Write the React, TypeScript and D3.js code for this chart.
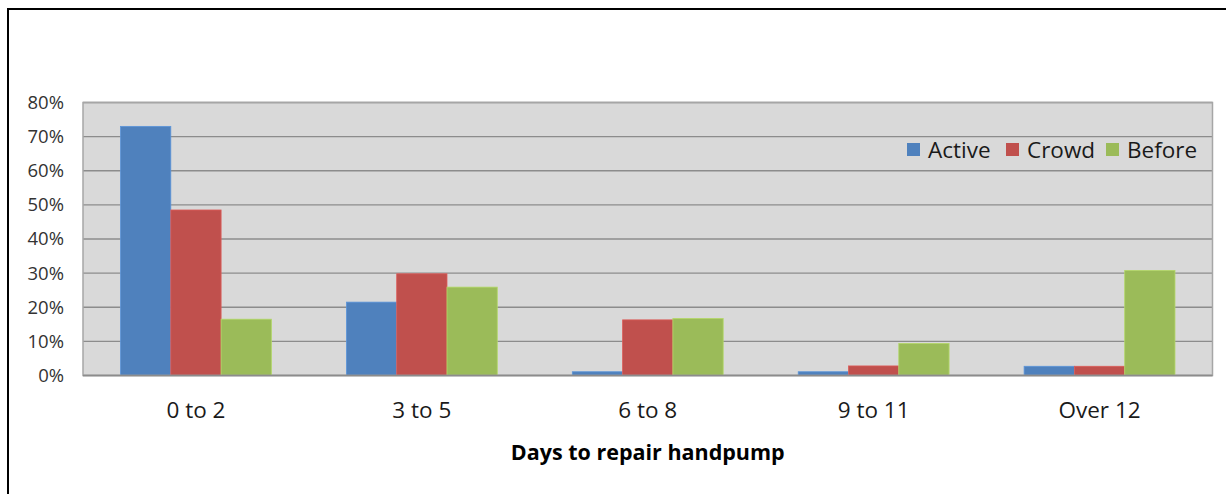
import React from "react";
import * as d3 from "d3";

const categories = ["0 to 2", "3 to 5", "6 to 8", "9 to 11", "Over 12"];
const seriesNames = ["Active", "Crowd", "Before"];
const active = [0.73, 0.215, 0.011, 0.011, 0.027];
const crowd = [0.485, 0.298, 0.163, 0.028, 0.027];
const before = [0.165, 0.259, 0.167, 0.094, 0.308];
const yTicks = [0, 0.1, 0.2, 0.3, 0.4, 0.5, 0.6, 0.7, 0.8];
const colors = ["#4F81BD", "#C0504D", "#9BBB59"];
const xTitle = "Days to repair handpump";

const W = 1226;
const H = 494;
const plot = { left: 83, right: 1212.5, top: 102.5, bottom: 375.5 };
const FONT = "'Open Sans', sans-serif";

export default function App() {
  const values = [active, crowd, before];
  const x = d3.scaleBand<string>().domain(categories).range([plot.left, plot.right]).padding(0);
  const bw = x.bandwidth();
  const inner = d3
    .scaleBand<string>()
    .domain(seriesNames)
    .range([bw * 0.1661, bw * 0.8339])
    .padding(0);
  const y = d3.scaleLinear().domain([0, 0.8]).range([plot.bottom, plot.top]);
  const fmt = d3.format(".0%");

  return (
    <svg width={W} height={H} style={{ position: "absolute", left: 0, top: 0, display: "block" }}>
      <rect x={0} y={0} width={W} height={H} fill="#ffffff" />
      <rect x={8} y={9} width={W + 20} height={H + 20} fill="none" stroke="#000" strokeWidth={2} />
      <rect
        x={plot.left}
        y={plot.top}
        width={plot.right - plot.left}
        height={plot.bottom - plot.top}
        fill="#D9D9D9"
      />
      {yTicks.map((t) => (
        <line
          key={t}
          x1={plot.left}
          x2={plot.right}
          y1={y(t)}
          y2={y(t)}
          stroke="#8C8C8C"
          strokeWidth={1.3}
        />
      ))}
      {values.map((vals, si) =>
        categories.map((c, ci) => (
          <rect
            key={`${si}-${ci}`}
            x={(x(c) as number) + (inner(seriesNames[si]) as number)}
            y={y(vals[ci])}
            width={inner.bandwidth()}
            height={plot.bottom - y(vals[ci])}
            fill={colors[si]}
            stroke={d3.color(colors[si])!.brighter(0.4).formatHex()}
            strokeWidth={0.8}
          />
        ))
      )}
      <rect
        x={plot.left}
        y={plot.top}
        width={plot.right - plot.left}
        height={plot.bottom - plot.top}
        fill="none"
        stroke="#A6A6A6"
        strokeWidth={1.5}
      />
      <line x1={plot.left} x2={plot.right} y1={plot.bottom} y2={plot.bottom} stroke="#8C8C8C" strokeWidth={1.5} />
      {yTicks.map((t) => (
        <text
          key={t}
          x={64}
          y={y(t)}
          dy="0.35em"
          textAnchor="end"
          fontFamily={FONT}
          fontSize={18.5}
          fill="#333"
        >
          {fmt(t)}
        </text>
      ))}
      {categories.map((c) => (
        <text
          key={c}
          x={(x(c) as number) + bw / 2}
          y={418}
          textAnchor="middle"
          fontFamily={FONT}
          fontSize={22.5}
          fill="#1a1a1a"
        >
          {c}
        </text>
      ))}
      <text
        x={(plot.left + plot.right) / 2}
        y={460}
        textAnchor="middle"
        fontFamily={FONT}
        fontSize={21.5}
        fontWeight="bold"
        fill="#000"
      >
        {xTitle}
      </text>
      {(() => {
        const starts = [907, 1006, 1106];
        return seriesNames.map((s, i) => (
          <g key={s}>
            <rect x={starts[i]} y={143} width={13} height={13} fill={colors[i]} />
            <text
              x={starts[i] + 21}
              y={157.5}
              fontFamily={FONT}
              fontSize={22.5}
              fill="#1a1a1a"
            >
              {s}
            </text>
          </g>
        ));
      })()}
    </svg>
  );
}
